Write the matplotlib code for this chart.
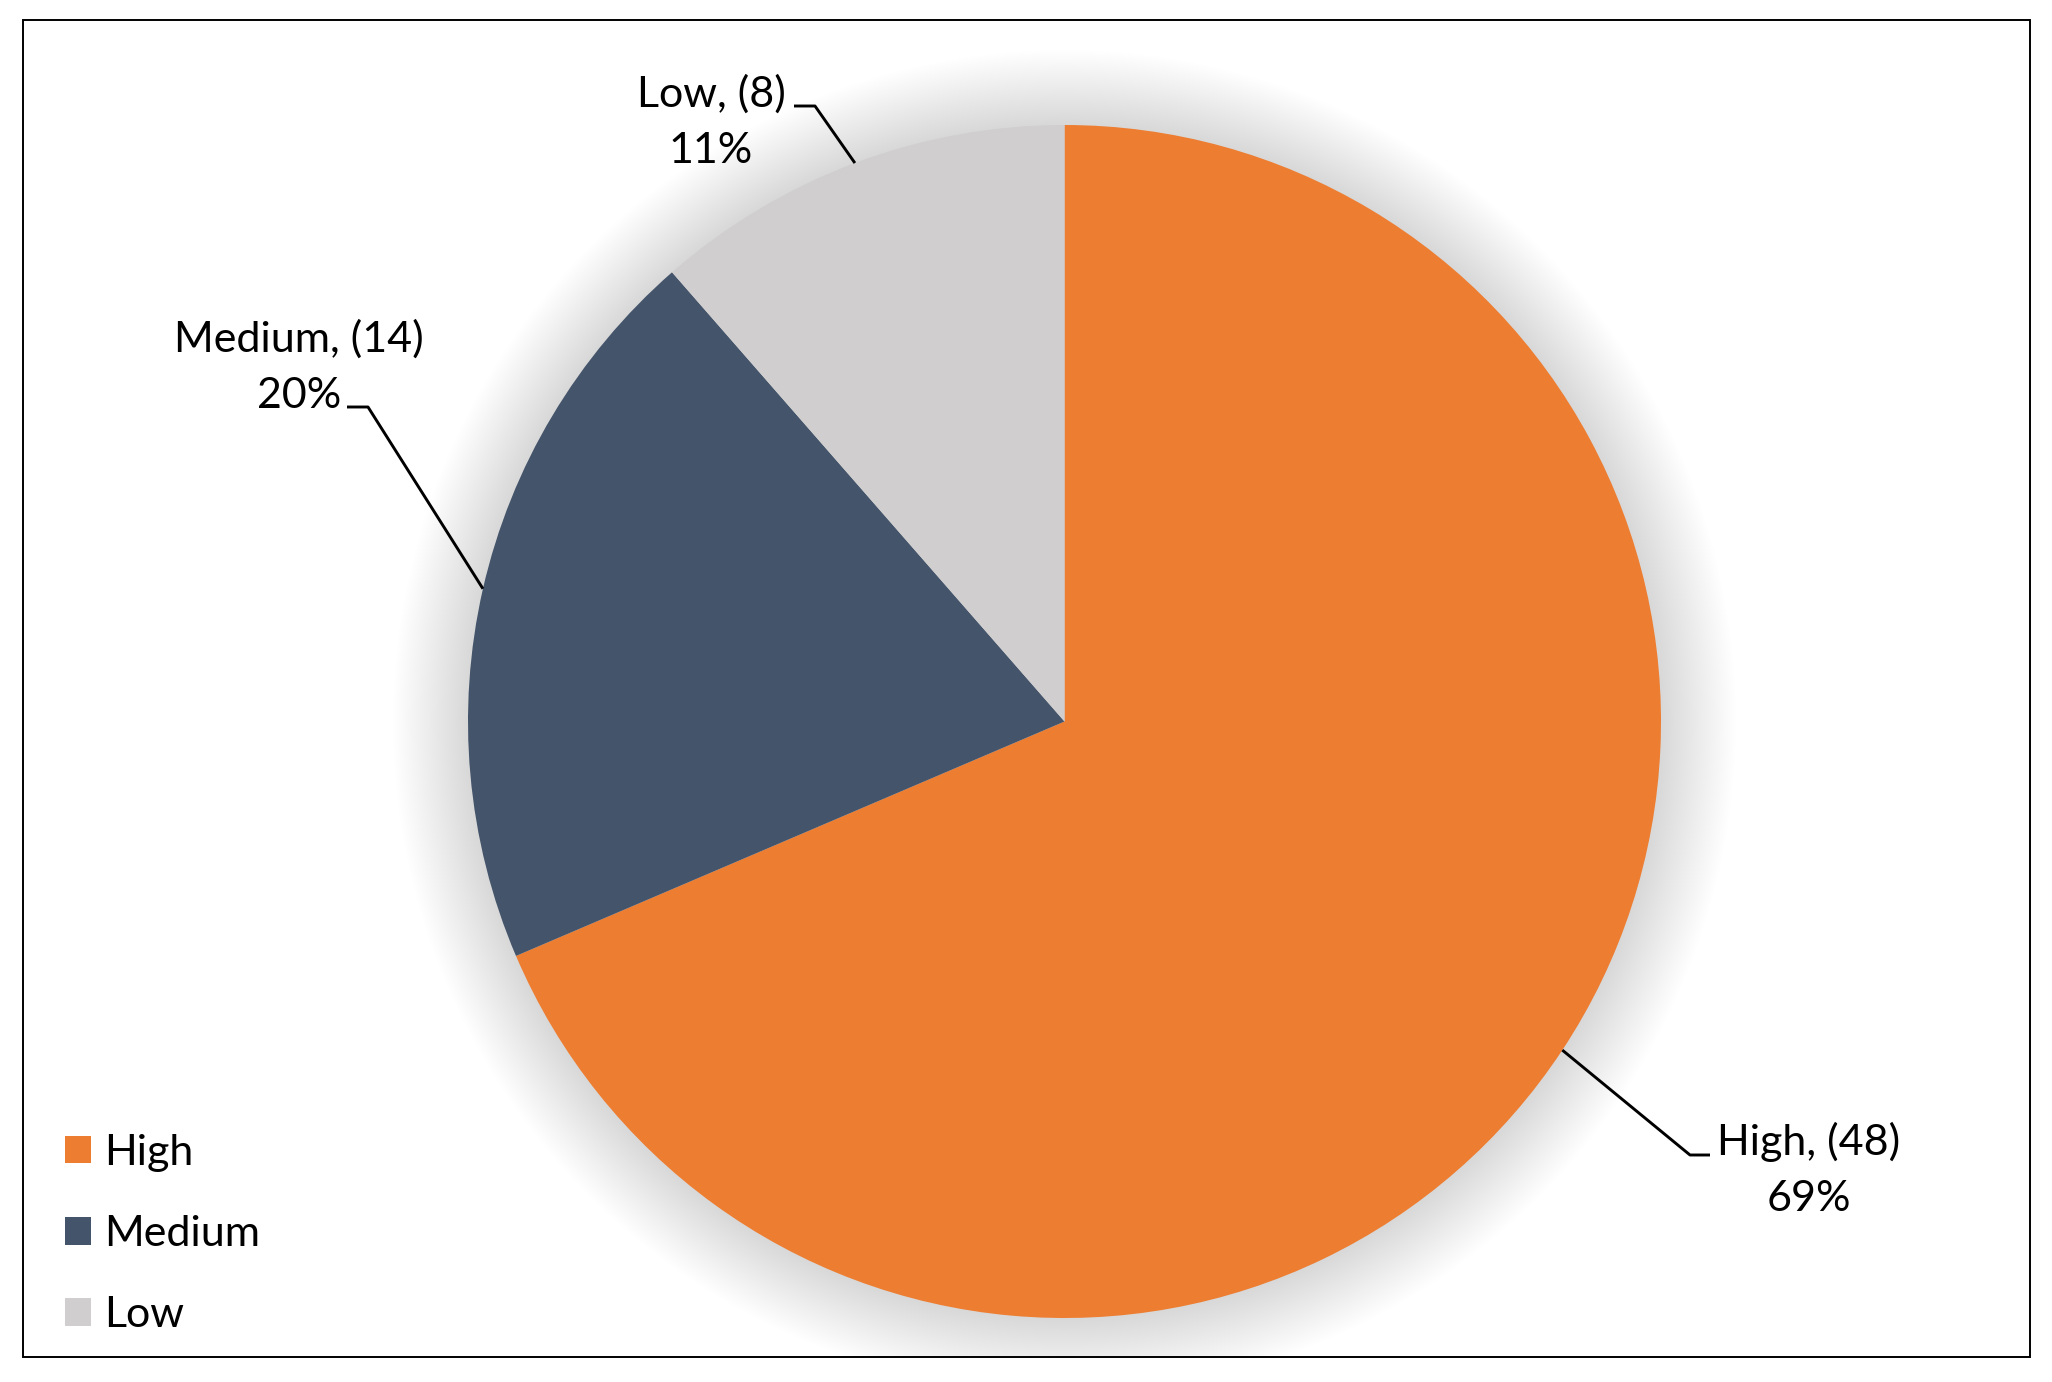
import matplotlib
matplotlib.use('Agg')

import numpy as np
import matplotlib.pyplot as plt
from matplotlib.patches import Circle, Rectangle

# Data
categories = ['High', 'Medium', 'Low']
counts = [48, 14, 8]
colors = ['#ED7D31', '#44546A', '#D0CECE']

W, H = 2052, 1382
plt.rcParams['font.family'] = ['Lato', 'DejaVu Sans']
FS = 31

fig = plt.figure(figsize=(W / 100, H / 100), dpi=100)
ax = fig.add_axes([0, 0, 1, 1])

cx, cy, r = 1064.5, H - 721.5, 596.5

# chart frame (also used to clip the glow)
frame = Rectangle((22.5, H - 1356.5), 2007, 1337, fill=False, edgecolor='black',
                  lw=1.4, zorder=6)
ax.add_patch(frame)

# soft glow behind the pie
for rr in np.linspace(r + 75, r, 40):
    c = Circle((cx, cy), rr, color='black', alpha=0.003, lw=0, zorder=1)
    ax.add_patch(c)
    c.set_clip_path(frame)

wedges, _ = ax.pie(counts, colors=colors, startangle=90, counterclock=False,
                   center=(cx, cy), radius=r, frame=True,
                   wedgeprops=dict(linewidth=0, zorder=2))
ax.set_xlim(0, W)
ax.set_ylim(0, H)
ax.set_aspect('equal')
ax.axis('off')

total = sum(counts)
# label positions (pixels from top-left): text center x, first baseline y, elbow x, elbow y, side
label_pos = {
    'High': (1809, 1155, 1690, 1155, 'right'),
    'Medium': (299, 352, 368, 407, 'left'),
    'Low': (711, 107, 815, 106, 'left'),
}

for w, cat, n in zip(wedges, categories, counts):
    tx, ty, ex, ey, side = label_pos[cat]
    ax.text(tx, H - ty, f'{cat}, ({n})', ha='center', va='baseline', fontsize=FS, zorder=5)
    ax.text(tx, H - ty - 56, f'{round(100 * n / total)}%', ha='center', va='baseline',
            fontsize=FS, zorder=5)
    # leader line from the middle of the wedge's outer edge
    mid = np.deg2rad((w.theta1 + w.theta2) / 2)
    px, py = cx + r * np.cos(mid), cy + r * np.sin(mid)
    hx = ex + 20 if side == 'right' else ex - 21
    ax.plot([px, ex, hx], [py, H - ey, H - ey], color='black', lw=2.1, zorder=4,
            solid_capstyle='butt')

leg = ax.legend(wedges, categories, loc='upper left', bbox_to_anchor=(65 / W, 1 - 1134 / H),
                frameon=False, fontsize=FS, handlelength=0.6, handleheight=0.6,
                handletextpad=0.3, labelspacing=1.0, borderpad=0, borderaxespad=0)

fig.savefig('out.png', dpi=100)
